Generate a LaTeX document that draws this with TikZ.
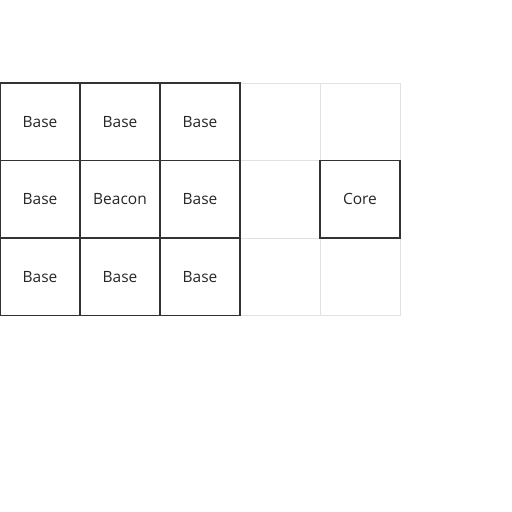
\documentclass[tikz,border=0pt]{standalone}
\usepackage{fontspec}
\setmainfont{Open Sans}
\usetikzlibrary{positioning}
\definecolor{gridgray}{HTML}{E2E2E2}
\definecolor{edgedark}{HTML}{333333}
\definecolor{inkdark}{HTML}{262626}

\begin{document}
\begin{tikzpicture}[
    node distance=0pt,
    font=\fontsize{15.5pt}{18pt}\selectfont,
    empty/.style={draw=gridgray, line width=1pt, minimum width=80pt, minimum height=77.5pt, inner sep=0pt, outer sep=0pt},
    room/.style={empty, draw=edgedark, line width=1.4pt, text=inkdark}
  ]
    \useasboundingbox (0,0) rectangle (512pt,-512pt);

    % free slots on the right
    \node[empty] (free14) at (280pt,-121.75pt) {};
    \node[empty, right=of free14] (free15) {};
    \node[empty, below=of free14] (free24) {};
    \node[empty, below=of free24] (free34) {};
    \node[empty, right=of free34] (free35) {};

    % 3x3 block around the beacon
    \node[room] (base11) at (40pt,-121.75pt) {Base};
    \node[room, right=of base11] (base12) {Base};
    \node[room, right=of base12] (base13) {Base};
    \node[room, below=of base11] (base21) {Base};
    \node[room, right=of base21] (beacon) {Beacon};
    \node[room, right=of beacon] (base23) {Base};
    \node[room, below=of base21] (base31) {Base};
    \node[room, right=of base31] (base32) {Base};
    \node[room, right=of base32] (base33) {Base};

    \node[room, right=of free24] (core) {Core};
  \end{tikzpicture}
\end{document}
